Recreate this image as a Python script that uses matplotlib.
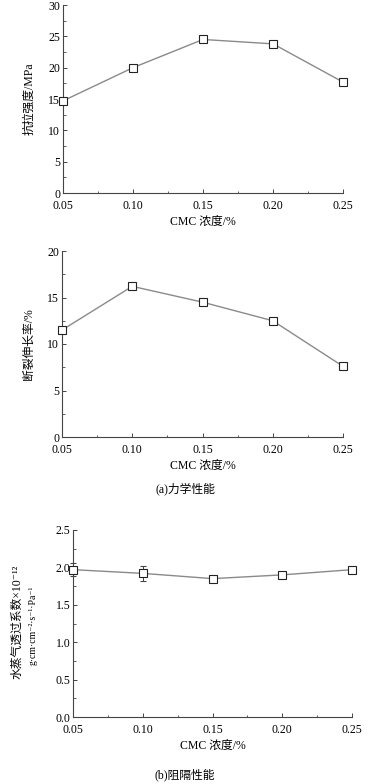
import matplotlib
matplotlib.use("Agg")
import matplotlib.pyplot as plt
from matplotlib.ticker import MultipleLocator

plt.rcParams['font.family'] = ['Liberation Serif', 'Noto Sans CJK SC', 'DejaVu Serif']

# data
cmc = [0.05, 0.10, 0.15, 0.20, 0.25]
tensile = [14.7, 20.0, 24.5, 23.8, 17.7]
elongation = [11.5, 16.2, 14.5, 12.5, 7.6]
wvp = [1.97, 1.92, 1.85, 1.90, 1.97]
wvp_err = [0.09, 0.10, 0.04, 0.03, 0.02]
xticks = [0.05, 0.10, 0.15, 0.20, 0.25]
xticklabels = ['0.05', '0.10', '0.15', '0.20', '0.25']

W, H = 370, 784
fig = plt.figure(figsize=(W / 100, H / 100), dpi=100)


def px_axes(left, right, top, bottom):
    return fig.add_axes([left / W, 1 - bottom / H, (right - left) / W, (bottom - top) / H])


def style(ax, ymax, ymajor, yminor, yfmt):
    for s in ['top', 'right']:
        ax.spines[s].set_visible(False)
    for s in ['left', 'bottom']:
        ax.spines[s].set_color('#444444')
        ax.spines[s].set_linewidth(0.8)
    ax.set_xlim(0.05, 0.25)
    ax.set_ylim(0, ymax)
    ax.set_xticks(xticks)
    ax.set_xticklabels(xticklabels)
    ax.xaxis.set_minor_locator(MultipleLocator(0.025))
    ax.yaxis.set_major_locator(MultipleLocator(ymajor))
    ax.yaxis.set_minor_locator(MultipleLocator(yminor))
    ax.yaxis.set_major_formatter(yfmt)
    ax.tick_params(which='both', direction='in', color='#444444', labelsize=8.5,
                   top=False, right=False)
    ax.tick_params(which='major', length=3, width=0.7)
    ax.tick_params(axis='y', which='major', pad=2)
    ax.tick_params(axis='x', which='major', pad=5)
    ax.tick_params(which='minor', length=1.8, width=0.6)
    ax.set_xlabel('CMC 浓度/%', fontsize=8.5, labelpad=3)


# panel 1: tensile strength
ax1 = px_axes(63, 343, 5, 193)
ax1.plot(cmc, tensile, color='#8a8a8a', lw=1.0, marker='s', ms=5.5,
         mfc='white', mec='#222222', mew=0.8, clip_on=False, zorder=3)
style(ax1, 30, 5, 2.5, '{x:.0f}')
ax1.set_ylabel('抗拉强度/MPa', fontsize=8.5, labelpad=9)

# panel 2: elongation at break
ax2 = px_axes(62, 343, 251, 437)
ax2.plot(cmc, elongation, color='#8a8a8a', lw=1.0, marker='s', ms=5.5,
         mfc='white', mec='#222222', mew=0.8, clip_on=False, zorder=3)
style(ax2, 20, 5, 2.5, '{x:.0f}')
ax2.set_ylabel('断裂伸长率/%', fontsize=8.5, labelpad=9)

fig.text(185 / W, 1 - 489 / H, '(a)力学性能', ha='center', va='center', fontsize=8.5)

# panel 3: water vapour permeability
ax3 = px_axes(73, 352, 530, 717)
ax3.errorbar(cmc, wvp, yerr=wvp_err, color='#8a8a8a', lw=1.0, marker='s', ms=5.5,
             mfc='white', mec='#222222', mew=0.8, ecolor='#444444', elinewidth=0.7,
             capsize=2, clip_on=False, zorder=3)
style(ax3, 2.5, 0.5, 0.25, '{x:.1f}')
fig.text(17 / W, 1 - 622 / H, '水蒸气透过系数×10⁻¹²', rotation=90,
         ha='center', va='center', fontsize=8.5)
fig.text(33 / W, 1 - 625 / H, 'g·cm·cm⁻²·s⁻¹·Pa⁻¹', rotation=90,
         ha='center', va='center', fontsize=7)

fig.text(185 / W, 1 - 775 / H, '(b)阻隔性能', ha='center', va='center', fontsize=8.5)

fig.savefig('out.png', dpi=100, facecolor='white')
